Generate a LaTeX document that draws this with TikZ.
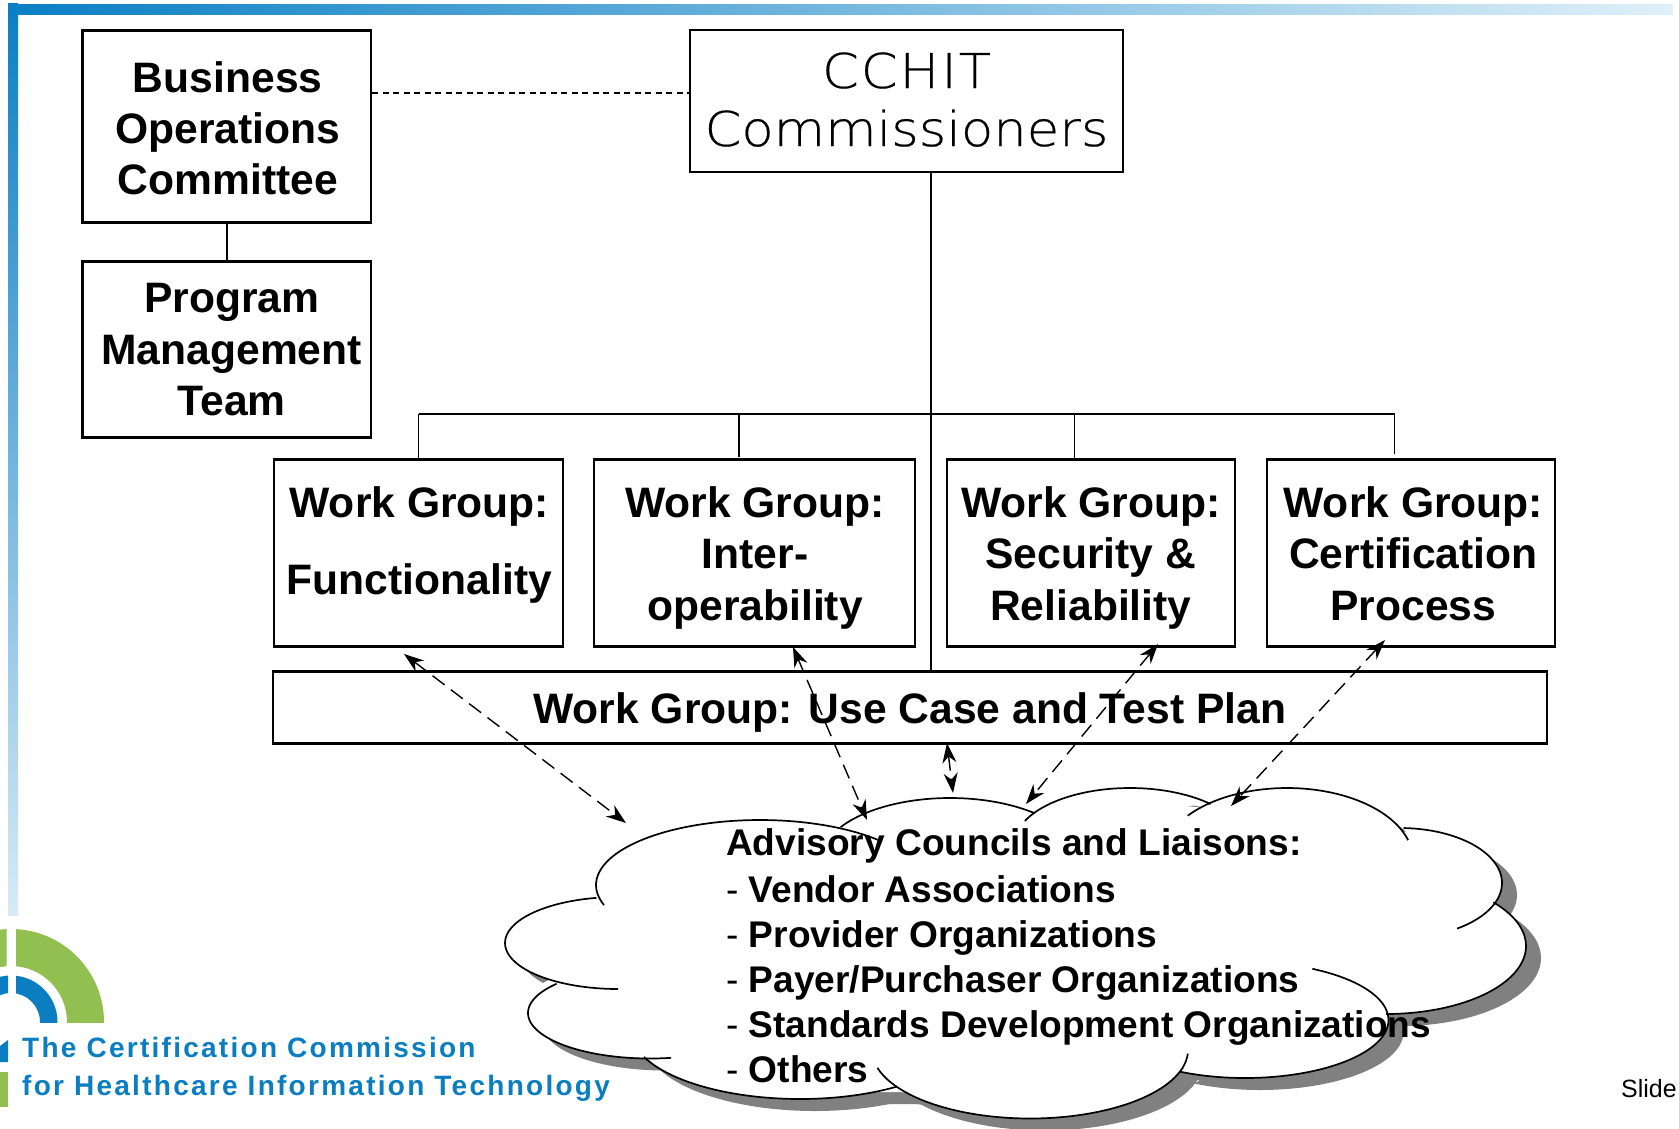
\documentclass[tikz,border=0pt]{standalone}
\usepackage{fontspec}
\usepackage{xcolor}
\usetikzlibrary{arrows.meta}
\setmainfont{Liberation Sans}
\newfontfamily\thinfont[FakeStretch=1.1,FakeBold=0.4]{DejaVu Sans ExtraLight}
\newfontfamily\logofont[LetterSpace=8.1]{Liberation Sans}
\definecolor{bandblue}{HTML}{0A7FC4}
\definecolor{bandmid}{HTML}{8FB5DE}
\definecolor{bandlight}{HTML}{DFF0F9}
\definecolor{logogreen}{HTML}{92C050}
\definecolor{logoblue}{HTML}{0A7EC0}
\definecolor{shadowgray}{HTML}{808080}
% text placed relative to the centre of its box: dx, first baseline relative to centre, lines
\newcommand{\boxtext}[3]{\makebox[0pt][c]{\hspace*{#1pt}\raisebox{#2pt}[0pt][0pt]{\begin{tabular}[t]{@{}c@{}}#3\end{tabular}}}}
\tikzset{
  x=1pt,y=-1pt,
  orgbox/.style={draw=black,line width=2.2pt,fill=white,inner sep=0pt,rectangle},
  boldtxt/.style={font=\fontsize{42.6}{51.5}\selectfont\bfseries},
  conn/.style={draw=black,line width=1.8pt},
  dualarrow/.style={draw=black,line width=1.4pt,dash pattern=on 15pt off 8pt,
    {Stealth[length=20pt,width=14pt]}-{Stealth[length=20pt,width=14pt]}},
  cloudline/.style={draw=black,line width=1.7pt},
}
% one lobe of the cloud: centre x, centre y, radii, start and end angle
\newcommand{\lobe}[6]{plot[smooth,domain=#5:#6,samples=48,variable=\t] ({#1+#3*cos(\t)},{#2+#4*sin(\t)})}
\def\lA{\lobe{618}{943}{113}{46}{259}{90}}
\def\lB{\lobe{650}{1013}{122}{45.5}{220}{80}}
\def\lC{\lobe{800}{1030}{169.5}{69}{157}{55}}
\def\lD{\lobe{1030}{1050}{158}{68.5}{165}{3}}
\def\lE{\lobe{1245}{1020}{143.5}{58}{-62}{117}}
\def\lF{\lobe{1386}{946}{140}{68}{-40}{90}}
\def\lG{\lobe{1400}{883}{102}{55}{-88}{56}}
\def\lH{\lobe{1287}{860}{126}{72}{218}{344}}
\def\lI{\lobe{1130}{845}{116}{57}{205}{314}}
\def\lJ{\lobe{950}{860}{129}{62}{212}{311}}
\def\lK{\lobe{760}{885}{164}{65}{162}{318}}
\newcommand{\cloudfill}[1]{%
  \fill[#1] \lA -- cycle; \fill[#1] \lB -- cycle; \fill[#1] \lC -- cycle; \fill[#1] \lD -- cycle;
  \fill[#1] \lE -- cycle; \fill[#1] \lF -- cycle; \fill[#1] \lG -- cycle; \fill[#1] \lH -- cycle;
  \fill[#1] \lI -- cycle; \fill[#1] \lJ -- cycle; \fill[#1] \lK -- cycle;
  \fill[#1] (600,890) -- (800,825) -- (950,805) -- (1040,814) -- (1130,800) -- (1205,808) -- (1405,832) -- (1420,833) -- (1495,900) -- (1510,975) -- (1385,1013) -- (1320,1068) -- (1180,1068) -- (1100,1110) -- (900,1092) -- (770,1092) -- (650,1058) -- (540,985) -- (600,950) -- cycle;}
\begin{document}
\begin{tikzpicture}
\useasboundingbox (0,0) rectangle (1679,1128);
\fill[white] (0,0) rectangle (1679,1128);
% slide decoration
\shade[left color=bandblue,middle color=bandmid,right color=bandlight] (8,4) rectangle (1673,14);
\shade[top color=bandblue,middle color=bandmid,bottom color=bandlight!90!bandmid] (8,3) rectangle (18,915);
% logo
\begin{scope}
  \clip (16,900) rectangle (110,1022);
  \fill[logogreen,even odd rule] (11,1022) circle (93) circle (56);
  \fill[logoblue,even odd rule] (11,1022) circle (46.5) circle (29);
\end{scope}
\begin{scope}
  \clip (0,900) rectangle (6.5,1022);
  \fill[logogreen,even odd rule] (11,1022) circle (93) circle (56);
\end{scope}
\begin{scope}
  \clip (0,900) rectangle (8,1022);
  \fill[logoblue,even odd rule] (11,1022) circle (46.5) circle (29);
\end{scope}
\fill[logoblue] (0,1046) -- (8,1040) -- (8,1062) -- (0,1062) -- cycle;
\fill[logogreen] (0,1072) rectangle (8,1107);
\node[anchor=base west,inner sep=0pt,text=logoblue,font=\fontsize{28}{28}\logofont\bfseries] (logoa) at (22,1057) {The Certification Commission};
\node[anchor=base west,inner sep=0pt,text=logoblue,font=\fontsize{28}{28}\logofont\bfseries] (logob) at (22,1095) {for Healthcare Information Technology};
\node[anchor=base west,inner sep=0pt,font=\fontsize{25}{25}\selectfont] (slide) at (1621,1097) {Slide};
% boxes
\node[orgbox,boldtxt,minimum width=288.5pt,minimum height=192pt] (biz) at (226.7,126.5) {\boxtext{2}{34}{Business\\[-1pt]Operations\\[-0.5pt]Committee}};
\node[orgbox,boldtxt,minimum width=288.5pt,minimum height=176pt] (prog) at (226.7,349.5) {\boxtext{10}{37}{Program\\Management\\Team}};
\node[orgbox,minimum width=433pt,minimum height=142pt,font=\fontsize{48}{58}\thinfont] (comm) at (906.5,101) {\boxtext{0}{13}{\addfontfeature{LetterSpace=4}CCHIT\\Commissioners}};
\node[orgbox,boldtxt,minimum width=289pt,minimum height=187pt] (wgf) at (418.8,553) {\boxtext{1}{36}{Work Group:\\[26pt]Functionality}};
\node[orgbox,boldtxt,minimum width=320.5pt,minimum height=187pt] (wgi) at (754.5,553) {\boxtext{1}{36}{Work Group:\\Inter-\\operability}};
\node[orgbox,boldtxt,minimum width=288pt,minimum height=187pt] (wgs) at (1091.3,553) {\boxtext{-1}{36}{Work Group:\\Security \&\\Reliability}};
\node[orgbox,boldtxt,minimum width=288pt,minimum height=187pt] (wgc) at (1411.3,553) {\boxtext{4}{36}{Work Group:\\Certification\\Process}};
\node[orgbox,boldtxt,minimum width=1274pt,minimum height=72pt] (uc) at (910.3,707.5) {\boxtext{-1}{-15.5}{Work Group: Use Case and Test Plan}};
% structure connectors
\draw[conn,dash pattern=on 6pt off 4.5pt] (biz.east |- 0,93) -- (comm.west |- 0,93);
\draw[conn] (biz.south) -- (prog.north);
\coordinate (trunk) at (931,413.5);
\coordinate (busL) at (418.5,413.5);
\coordinate (busR) at (1394.5,413.5);
\coordinate (stubI) at (739,456.7);
\coordinate (stubS) at (1074.5,459);
\coordinate (stubC) at (1394.5,454);
\draw[conn,line width=2pt] (comm.south -| trunk) -- (uc.north -| trunk);
\draw[conn,line width=2pt] (busL) -- (busR);
\draw[conn] (busL) -- (wgf.north -| busL);
\draw[conn] (stubI |- busL) -- (stubI);
\draw[conn] (stubS |- busL) -- (stubS);
\draw[conn] (busR) -- (stubC);
% cloud
\begin{scope}[shift={(15,12)}]
\cloudfill{shadowgray}
\end{scope}
\cloudfill{white}
\draw[cloudline] \lA; \draw[cloudline] \lB; \draw[cloudline] \lC; \draw[cloudline] \lD; \draw[cloudline] \lE; \draw[cloudline] \lF;
\draw[cloudline] \lG; \draw[cloudline] \lH; \draw[cloudline] \lI; \draw[cloudline] \lJ; \draw[cloudline] \lK;
\node[anchor=base west,inner sep=0pt,font=\fontsize{37.1}{45}\selectfont\bfseries] (adv) at (726,855) {\begin{tabular}[t]{@{}l@{}}Advisory Councils and Liaisons:\\[2pt]{\mdseries -} Vendor Associations\\{\mdseries -} Provider Organizations\\{\mdseries -} Payer/Purchaser Organizations\\{\mdseries -} Standards Development Organizations\\{\mdseries -} Others\end{tabular}};
% dashed double arrows
\coordinate (a1) at (404,654); \coordinate (a2) at (626,823);
\coordinate (b1) at (793,647); \coordinate (b2) at (867,820);
\coordinate (c1) at (947,743); \coordinate (c2) at (953,793);
\coordinate (d1) at (1158,644); \coordinate (d2) at (1026,804);
\coordinate (e1) at (1385,640); \coordinate (e2) at (1231,806);
\draw[dualarrow] (a1) -- (a2);
\draw[dualarrow] (b1) -- (b2);
\draw[dualarrow] (c1) -- (c2);
\draw[dualarrow] (d1) -- (d2);
\draw[dualarrow] (e1) -- (e2);
\end{tikzpicture}
\end{document}
